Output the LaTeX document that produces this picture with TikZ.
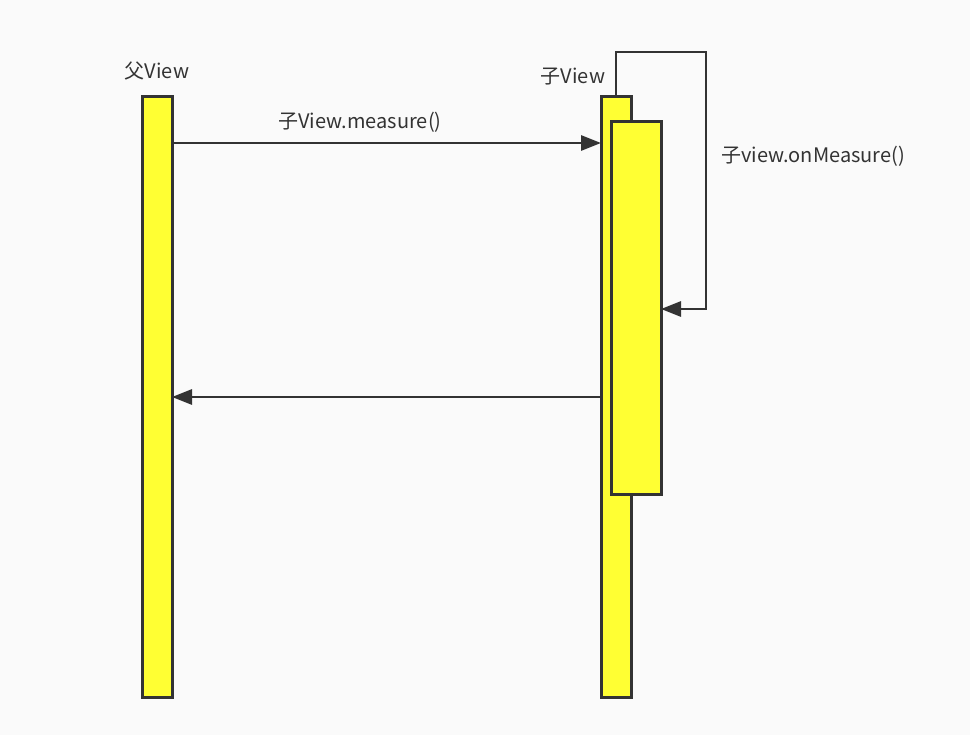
\documentclass[tikz,border=0pt]{standalone}
\usepackage{fontspec}
\setmainfont{Noto Sans CJK SC}
\usetikzlibrary{arrows.meta}
\definecolor{bg}{HTML}{FAFAFA}
\definecolor{ln}{HTML}{333333}
\definecolor{bar}{HTML}{FFFF33}
\begin{document}
\begin{tikzpicture}[x=1pt,y=-1pt,
  barbox/.style={draw=ln,fill=bar,line width=3pt},
  msg/.style={draw=ln,line width=2.8pt,-{Triangle[length=20pt,width=15pt]}},
  lbl/.style={text=ln,font=\fontsize{20}{24}\selectfont,inner sep=0pt}]
\fill[bg] (0,0) rectangle (970,735);
\useasboundingbox (0,0) rectangle (970,735);
% bars
\draw[barbox] (142,97) rectangle (172,697);
\coordinate (pl) at (172,143);
\coordinate (pr) at (172,397);
\draw[barbox] (601,97) rectangle (631,697);
\draw[barbox] (611,122) rectangle (661,494);
\coordinate (c1) at (601,143);
\coordinate (c2) at (601,397);
\coordinate (ltop) at (616,97);
\coordinate (lend) at (661,309);
% labels
\node[lbl] (fv) at (157,71) {父View};
\node[lbl] (zv) at (573,77) {子View};
\node[lbl] (m1) at (360,122) {子View.measure()};
\node[lbl] (m2) at (813,156) {子view.onMeasure()};
% messages
\draw[msg] (pl) -- (c1);
\draw[msg] (c2) -- (pr);
\draw[msg] (ltop) -- (616,52) -- (706,52) -- (706,309) -- (lend);
\end{tikzpicture}
\end{document}
